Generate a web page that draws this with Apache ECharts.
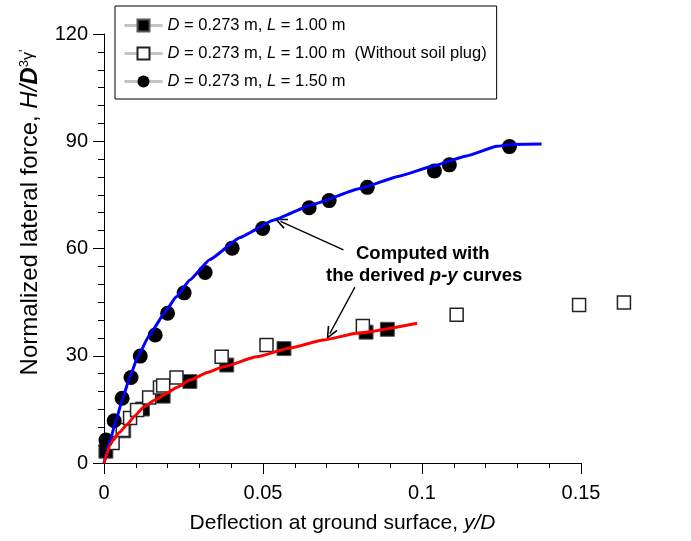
<!DOCTYPE html>
<html><head><meta charset="utf-8">
<script src="https://cdn.jsdelivr.net/npm/echarts@6/dist/echarts.min.js"></script>
<style>html,body{margin:0;padding:0;background:#fff}#c{width:691px;height:541px}</style>
</head><body><div id="c"></div>
<script>
// ---- data (x = y/D, y = H/D^3 gamma') ----
const legendKeys = ['sqFilled', 'sqOpen', 'circ'];
const legendLabels = {
  sqFilled: '{i|D} = 0.273 m, {i|L} = 1.00 m',
  sqOpen: '{i|D} = 0.273 m, {i|L} = 1.00 m  (Without soil plug)',
  circ: '{i|D} = 0.273 m, {i|L} = 1.50 m'
};
const filledSquares = [
  [0.0006, 3.3], [0.0062, 9.0], [0.0121, 15.1], [0.0186, 18.7], [0.0270, 22.8],
  [0.0386, 27.4], [0.0566, 32.0], [0.0824, 36.6], [0.0891, 37.4]
];
const openSquares = [
  [0.0027, 5.6], [0.0059, 9.2], [0.0082, 12.6], [0.0104, 14.8], [0.0142, 18.3],
  [0.0176, 21.1], [0.0186, 21.7], [0.0228, 23.9], [0.0370, 29.7], [0.0511, 33.0],
  [0.0814, 38.3], [0.1109, 41.5], [0.1494, 44.2], [0.1635, 44.9]
];
const circles = [
  [0.0006, 6.4], [0.0032, 11.8], [0.0057, 18.1], [0.0085, 23.9], [0.0114, 29.9],
  [0.0161, 35.8], [0.0200, 41.9], [0.0252, 47.6], [0.0318, 53.3], [0.0403, 60.1],
  [0.0499, 65.6], [0.0645, 71.4], [0.0708, 73.4], [0.0828, 77.1], [0.1039, 81.7],
  [0.1086, 83.4], [0.1275, 88.5]
];
const computedL150 = [
  [0, 0], [0.0020, 6.5], [0.0038, 12.0], [0.0059, 18.1], [0.0080, 23.7], [0.0106, 29.7],
  [0.0143, 35.8], [0.0190, 41.9], [0.0226, 46.4], [0.0270, 51.2], [0.0333, 56.9],
  [0.0428, 63.1], [0.0532, 67.9], [0.0658, 72.4], [0.0805, 76.8], [0.0931, 80.3],
  [0.1036, 83.1], [0.1140, 85.9], [0.1235, 88.6], [0.1280, 89.1], [0.1376, 89.2]
];
const computedL100 = [
  [0, 0], [0.0025, 6.0], [0.0048, 8.5], [0.0071, 10.6], [0.0095, 13.0], [0.0124, 15.6],
  [0.0160, 17.6], [0.0197, 19.5], [0.0230, 21.2], [0.0270, 23.2], [0.0325, 25.3],
  [0.0375, 26.9], [0.0480, 29.7], [0.0585, 32.2], [0.0690, 34.4], [0.0795, 36.3],
  [0.0985, 39.1]
];
// annotation arrows (data coordinates): [start, end]
const arrowUpper = [[0.0753, 59.6], [0.0555, 67.6]];
const arrowLower = [[0.0789, 49.2], [0.0710, 36.2]];
const xRange = [0, 0.15, 0.05];
const yRange = [0, 120, 30];

const FONT = 'Liberation Sans, Arial, sans-serif';
const arrowPath = 'path://M5 0 L10 11 L8.7 11.7 L5 3.4 L1.3 11.7 L0 11 Z';

const chart = echarts.init(document.getElementById('c'), null, {renderer: 'canvas'});

function markerSeries(key, data, symbol, size, fill, border, bw, z) {
  return {
    name: key, type: 'line', data: data, symbol: symbol, symbolSize: size,
    showSymbol: true, showAllSymbol: true, clip: false, z: z,
    lineStyle: {opacity: 0, width: 0},
    itemStyle: {color: fill, borderColor: border, borderWidth: bw},
    emphasis: {disabled: true}, silent: true, animation: false
  };
}

const option = {
  animation: false,
  textStyle: {fontFamily: FONT},
  grid: {left: 104, right: 110, top: 34, bottom: 78, containLabel: false},
  legend: {
    show: true, orient: 'vertical', left: 115, top: 6,
    data: legendKeys,
    itemWidth: 38, itemHeight: 15, itemGap: 9,
    padding: [10, 10, 8, 8],
    borderColor: '#000', borderWidth: 1, backgroundColor: '#fff',
    lineStyle: {color: '#c4c4c4', width: 3, opacity: 1},
    selectedMode: false,
    formatter: function (n) { return legendLabels[n]; },
    textStyle: {
      fontFamily: FONT, fontSize: 16.5, color: '#000', lineHeight: 19,
      rich: {i: {fontFamily: FONT, fontSize: 16.5, fontStyle: 'italic', color: '#000', lineHeight: 19}}
    }
  },
  xAxis: {
    type: 'value', min: xRange[0], max: xRange[1], interval: xRange[2],
    name: 'Deflection at ground surface, {i|y/D}',
    nameLocation: 'middle', nameGap: 50,
    nameTextStyle: {
      fontFamily: FONT, fontSize: 21, color: '#000',
      rich: {i: {fontFamily: FONT, fontSize: 21, fontStyle: 'italic', color: '#000'}}
    },
    axisLine: {show: true, lineStyle: {color: '#000', width: 1}},
    axisTick: {show: true, length: 11, lineStyle: {color: '#000'}},
    minorTick: {show: true, splitNumber: 5, length: 5, lineStyle: {color: '#000'}},
    splitLine: {show: false},
    axisLabel: {fontFamily: FONT, fontSize: 20, color: '#000', margin: 20}
  },
  yAxis: {
    type: 'value', min: yRange[0], max: yRange[1], interval: yRange[2],
    name: 'Normalized lateral force, {i|H/}{bi|D}{sup|3}{g|γ}{sup|\'}',
    nameLocation: 'middle', nameGap: 62, nameRotate: 90,
    nameTextStyle: {
      fontFamily: FONT, fontSize: 24, color: '#000', padding: [0, 0, 0, 72],
      rich: {
        i: {fontFamily: FONT, fontSize: 24, fontStyle: 'italic', color: '#000'},
        bi: {fontFamily: FONT, fontSize: 24, fontStyle: 'italic', fontWeight: 'bold', color: '#000'},
        sup: {fontFamily: FONT, fontSize: 13, color: '#000', verticalAlign: 'top', padding: [0, 0, 9, 0]},
        g: {fontFamily: FONT, fontSize: 16, color: '#000', padding: [0, 0, 3, 0]}
      }
    },
    axisLine: {show: true, lineStyle: {color: '#000', width: 1}},
    axisTick: {show: true, length: 11, lineStyle: {color: '#000'}},
    minorTick: {show: true, splitNumber: 6, length: 6, lineStyle: {color: '#000'}},
    splitLine: {show: false},
    axisLabel: {fontFamily: FONT, fontSize: 20, color: '#000', margin: 16}
  },
  series: [
    markerSeries('sqFilled', filledSquares, 'rect', 14, '#000', '#555', 1, 2),
    markerSeries('sqOpen', openSquares, 'rect', 13, '#fff', '#222', 1.5, 3),
    markerSeries('circ', circles, 'circle', 15, '#000', '#000', 0, 4),
    {
      name: 'computedL150', type: 'line', data: computedL150, smooth: 0.12,
      smoothMonotone: 'x', showSymbol: false, z: 5, silent: true,
      lineStyle: {color: '#0000ff', width: 3},
      markLine: {
        silent: true, symbol: ['none', arrowPath], symbolSize: [11, 13],
        label: {show: false}, lineStyle: {color: '#000', width: 1.3, type: 'solid'},
        emphasis: {disabled: true},
        data: [[{coord: arrowUpper[0]}, {coord: arrowUpper[1]}]]
      }
    },
    {
      name: 'computedL100', type: 'line', data: computedL100, smooth: 0.15,
      smoothMonotone: 'x', showSymbol: false, z: 5, silent: true,
      lineStyle: {color: '#ff0000', width: 3},
      markLine: {
        silent: true, symbol: ['none', arrowPath], symbolSize: [11, 13],
        label: {show: false}, lineStyle: {color: '#000', width: 1.3, type: 'solid'},
        emphasis: {disabled: true},
        data: [[{coord: arrowLower[0]}, {coord: arrowLower[1]}]]
      }
    }
  ],
  graphic: [
    {type: 'text', left: 356, top: 244, z: 10,
     style: {text: 'Computed with', font: 'bold 18.5px ' + FONT, fill: '#000'}},
    {type: 'text', left: 326, top: 266, z: 10,
     style: {text: 'the derived {bi|p-y} curves', font: 'bold 18.5px ' + FONT, fill: '#000',
       rich: {bi: {font: 'italic bold 18.5px ' + FONT, fill: '#000'}}}}
  ]
};
chart.setOption(option);
</script></body></html>
